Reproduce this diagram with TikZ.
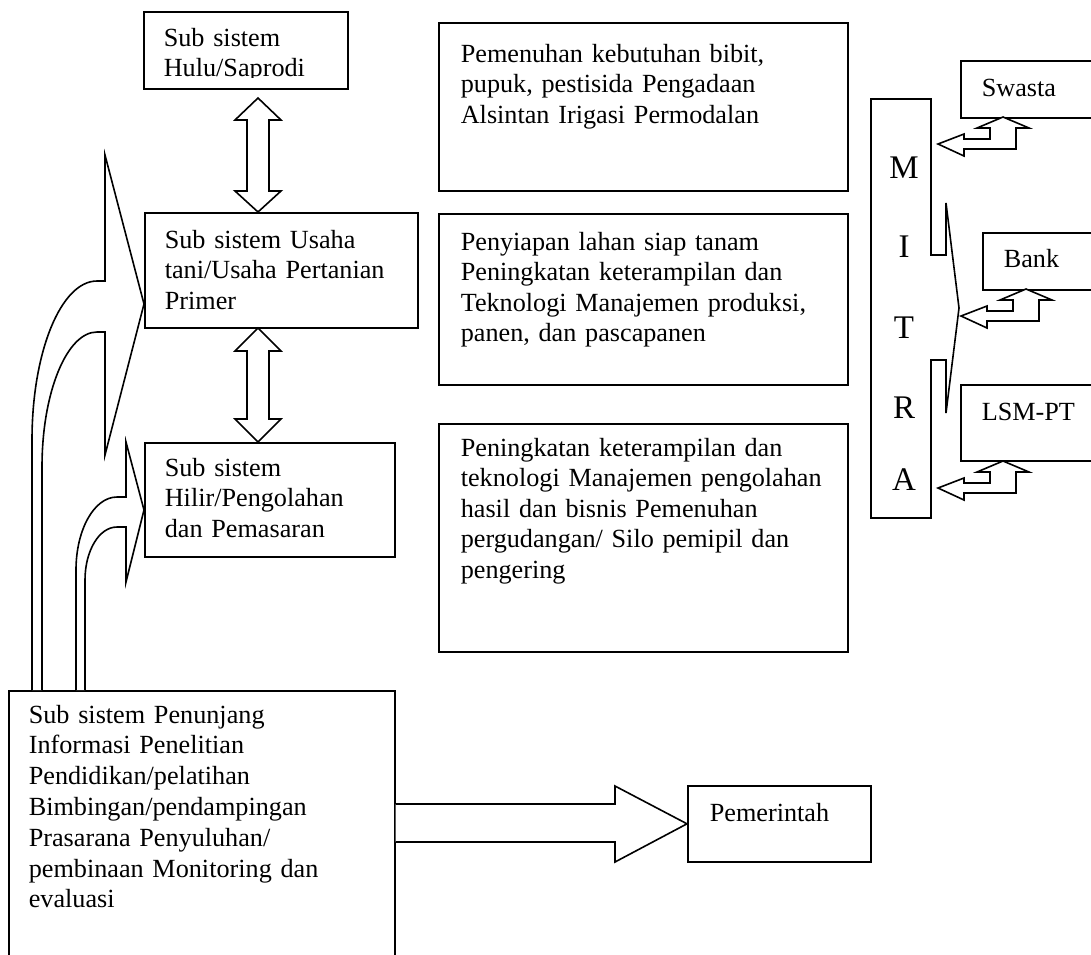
\documentclass[tikz,border=0pt]{standalone}
\usepackage{fontspec}
\setmainfont{Liberation Serif}
\begin{document}
\begin{tikzpicture}[x=1pt,y=-1pt,line width=1.6pt,line join=miter,
  box/.style={draw,inner sep=0pt,anchor=north west},
  txt/.style={inner sep=0pt,anchor=base west,align=left,text width=420pt,
    font=\fontsize{26.2}{30.5}\selectfont},
  big/.style={inner sep=0pt,anchor=base,font=\fontsize{33}{40}\selectfont},
  blockarrow/.style={draw,fill=white}]
\useasboundingbox (0,0) rectangle (1091,954);

% ---------- left column: the sub-systems ----------
\node[box,minimum width=204pt,minimum height=77pt] (hulu) at (143,11) {};
\begin{scope}
  \clip (143,11) rectangle (347,77);
  \node[txt] (hulu-t) at (163,46) {Sub sistem\\Hulu/Saprodi};
\end{scope}

\node[box,minimum width=273pt,minimum height=115pt] (usaha) at (144,212) {};
\node[txt] (usaha-t) at (164,248) {Sub sistem Usaha\\tani/Usaha Pertanian\\Primer};

\node[box,minimum width=250pt,minimum height=114pt] (hilir) at (144,442) {};
\node[txt] (hilir-t) at (164,476) {Sub sistem\\Hilir/Pengolahan\\dan Pemasaran};

\node[box,minimum width=386pt,minimum height=320pt] (penunjang) at (8,690) {};
\node[txt,font=\fontsize{26.2}{30.8}\selectfont] (penunjang-t) at (28,723)
  {Sub sistem Penunjang\\Informasi Penelitian\\Pendidikan/pelatihan\\
   Bimbingan/pendampingan\\Prasarana Penyuluhan/\\pembinaan Monitoring dan\\evaluasi};

% ---------- middle column: activities ----------
\node[box,minimum width=409pt,minimum height=168pt] (keb1) at (438,22) {};
\node[txt] (keb1-t) at (460,62)
  {Pemenuhan kebutuhan bibit,\\pupuk, pestisida Pengadaan\\Alsintan Irigasi Permodalan};

\node[box,minimum width=409pt,minimum height=171pt] (keb2) at (438,213) {};
\node[txt] (keb2-t) at (460,250)
  {Penyiapan lahan siap tanam\\Peningkatan keterampilan dan\\
   Teknologi Manajemen produksi,\\panen, dan pascapanen};

\node[box,minimum width=409pt,minimum height=228pt] (keb3) at (438,423) {};
\node[txt] (keb3-t) at (460,456)
  {Peningkatan keterampilan dan\\teknologi Manajemen pengolahan\\
   hasil dan bisnis Pemenuhan\\pergudangan/ Silo pemipil dan\\pengering};

% ---------- right column: partners ----------
\node[box,minimum width=60pt,minimum height=419pt] (mitra) at (870,98) {};
\foreach \l/\yy [count=\i] in {M/178,I/257,T/338,R/418,A/490}
  \node[big] (mitra-\i) at (904,\yy) {\l};

\node[box,minimum width=160pt,minimum height=57pt] (swasta) at (960,60) {};
\node[txt] (swasta-t) at (981,96) {Swasta};
\node[box,minimum width=140pt,minimum height=57pt] (bank) at (982,232) {};
\node[txt] (bank-t) at (1003,267) {Bank};
\node[box,minimum width=160pt,minimum height=76pt] (lsm) at (960,384) {};
\node[txt] (lsm-t) at (981,420) {LSM-PT};

\node[box,minimum width=183pt,minimum height=76pt] (pemerintah) at (687,785) {};
\node[txt] (pemerintah-t) at (709,821) {Pemerintah};

% ---------- double arrows between the sub-systems ----------
\draw[blockarrow] (258,98) -- (281,120) -- (269,120) -- (269,191) -- (281,191)
  -- (258,212) -- (235,191) -- (247,191) -- (247,120) -- (235,120) -- cycle;
\draw[blockarrow] (258,328) -- (281,351) -- (269,351) -- (269,419) -- (281,419)
  -- (258,442) -- (235,419) -- (247,419) -- (247,351) -- (235,351) -- cycle;

% ---------- curved arrows from the supporting sub-system ----------
\draw[blockarrow] (32,690) -- (32,440) .. controls (32,352) and (61,281) .. (97,281)
  -- (105,281) -- (105,155) -- (144,304) -- (105,455) -- (105,332) -- (97,332)
  .. controls (67,332) and (42,392) .. (42,467) -- (42,690);
\draw[blockarrow] (76,690) -- (76,570) .. controls (76,530) and (94,497) .. (117,497)
  -- (126,497) -- (126,442) -- (144,510) -- (126,582) -- (126,527) -- (117,527)
  .. controls (99,527) and (85,551) .. (85,580) -- (85,690);

% ---------- arrow to Pemerintah ----------
\draw[blockarrow] (penunjang.north east |- 0,804) -- (615,804) -- (615,786)
  -- (pemerintah.west) -- (615,862) -- (615,842) -- (penunjang.north east |- 0,842);

% ---------- MITRA chevron towards the partners ----------
\fill[white] (930,255) -- (946,255) -- (946,203) -- (959,308) -- (946,413)
  -- (946,360) -- (930,360) -- cycle;
\draw (930,255) -- (946,255) -- (946,203) -- (959,308) -- (946,413)
  -- (946,360) -- (930,360);

% ---------- bent double arrows of the partners ----------
\foreach \dx/\dy in {1003/117,1026/289,1003/461}
  \draw[blockarrow,shift={(\dx,\dy)}] (0,0) -- (26,11) -- (13,11) -- (13,32)
    -- (-39,32) -- (-39,39) -- (-65,27) -- (-39,17) -- (-39,22) -- (-13,22)
    -- (-13,11) -- (-26,11) -- cycle;
\end{tikzpicture}
\end{document}
